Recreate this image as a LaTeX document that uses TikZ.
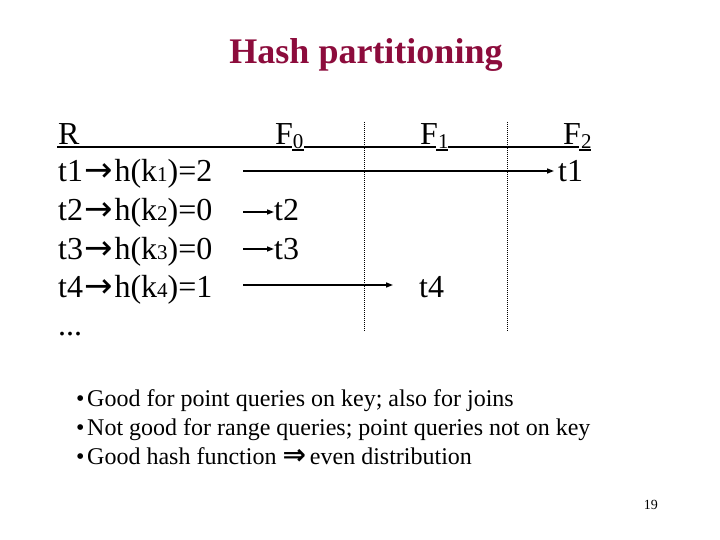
\documentclass[tikz,border=0pt]{standalone}
\usepackage{fontspec}
\setmainfont{Liberation Serif}
\newfontfamily\symbolfont{DejaVu Sans}
\usetikzlibrary{arrows.meta, positioning}
\definecolor{titlered}{RGB}{140,12,60}
\newcommand{\lowsub}[1]{\raisebox{-4pt}{\fontsize{21}{21}\selectfont #1}}
\newcommand{\smalldigit}[1]{{\fontsize{21}{21}\selectfont #1}}
\newcommand{\mapto}{\kern1.5pt{\symbolfont\fontsize{34}{34}\selectfont →}\kern1.5pt}
\newcommand{\implies}{{\symbolfont\bfseries\fontsize{28}{28}\selectfont ⇒}}

\begin{document}
\begin{tikzpicture}[
  x=1pt, y=-1pt,
  cell/.style={anchor=base west, inner sep=0pt, font=\fontsize{32}{38}\selectfont},
  point/.style={anchor=base west, inner sep=0pt, font=\fontsize{24}{29}\selectfont},
  move/.style={-{Triangle[length=7pt, width=5pt]}, line width=1.4pt},
  divider/.style={line width=0.8pt, dash pattern=on 0.8pt off 1.2pt}
]
\useasboundingbox (0,0) rectangle (720,540);

\node[anchor=base, inner sep=0pt, text=titlered, font=\fontsize{36}{40}\selectfont\bfseries]
  (title) at (366,64) {Hash partitioning};

% header row
\node[cell] (rel) at (58,145)  {R};
\node[cell] (f0)  at (275,145) {F\lowsub{0}};
\node[cell] (f1)  at (420,145) {F\lowsub{1}};
\node[cell] (f2)  at (563,145) {F\lowsub{2}};
\draw[line width=2pt] (57,147.5) -- (292,147.5) (304,147.5) -- (436,147.5) (448,147.5) -- (579,147.5);
\draw[line width=2pt] (292,150.5) -- (304,150.5) (436,150.5) -- (448,150.5) (579,150.5) -- (591,150.5);

% partition borders
\draw[divider] (364,122) -- (364,331);
\draw[divider] (507,122) -- (507,331);

% tuples of R
\node[cell] (r1) at (58,182) {t1\mapto h(k\smalldigit{1})=2};
\node[cell] (r2) at (58,221) {t2\mapto h(k\smalldigit{2})=0};
\node[cell] (r3) at (58,259) {t3\mapto h(k\smalldigit{3})=0};
\node[cell] (r4) at (58,297) {t4\mapto h(k\smalldigit{4})=1};
\node[cell] (more) at (58,335) {...};

% tuples in the partitions
\node[cell] (t1) at (558,182) {t1};
\node[cell] (t2) at (274,221) {t2};
\node[cell] (t3) at (274,259) {t3};
\node[cell] (t4) at (419,297) {t4};

\coordinate (s1) at (243,171);
\coordinate (s2) at (243,212);
\coordinate (s3) at (243,249);
\coordinate (s4) at (243,285);

\draw[move] (s1) -- ([xshift=-4pt] s1 -| t1.west);
\draw[move] (s2) -- (s2 -| t2.west);
\draw[move] (s3) -- (s3 -| t3.west);
\draw[move] (s4) -- ([xshift=-26pt] s4 -| t4.west);

% remarks
\node[point] (p1) at (76,406) {\makebox[11pt][l]{\textbullet}Good for point queries on key; also for joins};
\node[point] (p2) at (76,435) {\makebox[11pt][l]{\textbullet}Not good for range queries; point queries not on key};
\node[point] (p3) at (76,464) {\makebox[11pt][l]{\textbullet}Good hash function \implies\,even distribution};

\node[anchor=base east, inner sep=0pt, font=\fontsize{14}{16}\selectfont] (page) at (658,509) {19};
\end{tikzpicture}
\end{document}
